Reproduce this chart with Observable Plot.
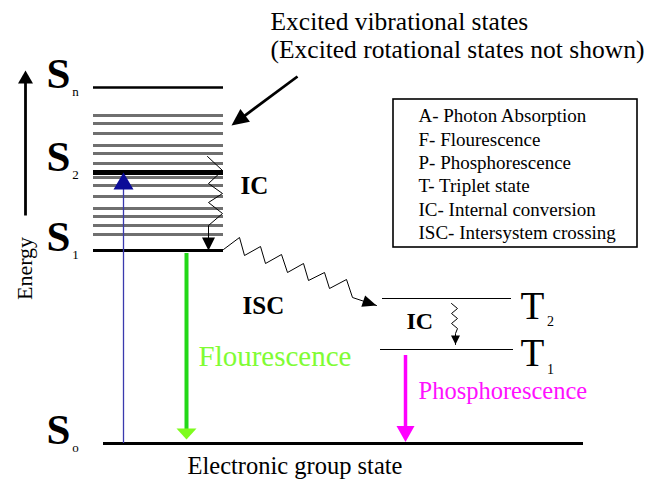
<!DOCTYPE html>
<html><head><meta charset="utf-8">
<script src="https://cdn.jsdelivr.net/npm/d3@7"></script>
<script src="https://cdn.jsdelivr.net/npm/@observablehq/plot@0.6"></script>
<style>body{margin:0;background:#fff}</style>
</head><body>
<script>
// ---- Data (energy in arbitrary units, ground state = 0; x in diagram units) ----
const singletSubs = ["n", "2", "1"];
const singletEnergy = [356, 271, 193];
const singletWidth = [2.7, 5, 3];
const vibrationalEnergy = [328, 320, 310, 298, 290, 280, 266, 258, 247, 235, 227, 218, 209];
const singletSpan = [93, 223];
const groundEnergy = 0;
const groundSpan = [103, 583];
const tripletSubs = ["2", "1"];
const tripletEnergy = [145, 94];
const tripletX1 = [382, 380];
const tripletX2 = [511, 513];

// radiative transitions
const radName = ["absorption", "fluorescence", "phosphorescence"];
const radX = [123, 186, 405];
const radFrom = [0, 190, 88];
const radTo = [271, 4, 1.5];
const radColor = ["#3a3aae", "#22d818", "#ff00ff"];
const radHeadColor = ["#0c0c98", "#7efc1e", "#ff00ff"];
const radWidth = [1.3, 4, 3.5];
const radHeadLen = [17, 11, 16];
const radHeadHalf = [10, 10, 9];

// non-radiative (wavy) transitions
const icX = [207, 222, 208, 222, 208, 222, 208, 208];
const icE = [287, 273, 260, 250, 241, 230, 218, 193];
const iscX = [223, 239, 244, 260, 265, 281, 287, 303, 308, 324, 329, 346, 352, 376];
const iscE = [194, 206, 188, 197, 180, 189, 171, 180, 163, 171, 155, 164, 146, 138];
const ic2X = [451, 457, 451, 457, 451, 457, 455, 455];
const ic2E = [140, 135, 130, 125, 120, 115, 110, 99];

// pointer arrows
const noteArrowX = [297, 231];
const noteArrowE = [367, 318];
const energyArrowX = [25, 25];
const energyArrowE = [228, 373];

// labels
const stateLetters = ["S", "S", "S", "S"];
const stateSubs = ["n", "2", "1", "o"];
const stateLabelE = [356, 273, 193, 0];
const stateSubE = [348, 265, 185, -8];
const tripletLabelE = [125, 78];
const tripletSubE = [118, 70];
const legendLines = ["A- Photon Absorption", "F- Flourescence", "P- Phosphorescence",
  "T- Triplet state", "IC- Internal conversion", "ISC- Intersystem crossing"];
const legendE = [321.3, 298, 274.7, 251.3, 228, 204.7];
const legendBox = {x1: 393, x2: 637, e1: 344, e2: 196};
const noteLines = ["Excited vibrational states", "(Excited rotational states not shown)"];
const noteE = [414, 386];

// ---- helpers ----
const serif = "Liberation Serif";
function head(x0, e0, x1, e1, len, half, id) {
  const dx = x1 - x0, dy = -(e1 - e0);
  const n = Math.hypot(dx, dy), ux = dx / n, uy = dy / n;
  const bx = x1 - ux * len, by = -e1 - uy * len;
  const px = -uy, py = ux;
  return [
    {id, x: x1, e: e1},
    {id, x: bx + px * half, e: -(by + py * half)},
    {id, x: bx - px * half, e: -(by - py * half)},
    {id, x: x1, e: e1}
  ];
}
function shaftEnd(x0, e0, x1, e1, back) {
  const dx = x1 - x0, de = e1 - e0, n = Math.hypot(dx, de);
  return {x: x1 - dx / n * back, e: e1 - de / n * back};
}
const pts = (xs, es) => xs.map((x, i) => ({x, e: es[i]}));

const singletLines = singletEnergy.map((e, i) => ({x1: singletSpan[0], x2: singletSpan[1], e, w: singletWidth[i]}));
const vibLines = vibrationalEnergy.map(e => ({x1: singletSpan[0], x2: singletSpan[1], e}));
const tripletLines = tripletEnergy.map((e, i) => ({x1: tripletX1[i], x2: tripletX2[i], e}));

const radShafts = radName.map((n, i) => {
  const end = shaftEnd(radX[i], radFrom[i], radX[i], radTo[i], radHeadLen[i] - 1);
  return {x: radX[i], e1: radFrom[i], e2: end.e, c: radColor[i], w: radWidth[i]};
});
const radHeads = radName.flatMap((n, i) => head(radX[i], radFrom[i], radX[i], radTo[i], radHeadLen[i], radHeadHalf[i], n)
  .map(d => ({...d, c: radHeadColor[i]})));

const icPts = pts(icX, icE), iscPts = pts(iscX, iscE), ic2Pts = pts(ic2X, ic2E);
const lastTwo = (a) => [a[a.length - 2], a[a.length - 1]];
const wavyHeads = [
  head(...lastTwo(icPts).flatMap(p => [p.x, p.e]), 13, 6.5, "ic"),
  head(...lastTwo(iscPts).flatMap(p => [p.x, p.e]), 14, 6, "isc"),
  head(...lastTwo(ic2Pts).flatMap(p => [p.x, p.e]), 9, 4.5, "ic2"),
  head(noteArrowX[0], noteArrowE[0], noteArrowX[1], noteArrowE[1], 17, 8, "note"),
  head(energyArrowX[0], energyArrowE[0], energyArrowX[1], energyArrowE[1], 13, 7.5, "energy")
].flat();
const noteEnd = shaftEnd(noteArrowX[0], noteArrowE[0], noteArrowX[1], noteArrowE[1], 15);
const energyEnd = shaftEnd(energyArrowX[0], energyArrowE[0], energyArrowX[1], energyArrowE[1], 12);
const pointerShafts = [
  {x1: noteArrowX[0], e1: noteArrowE[0], x2: noteEnd.x, e2: noteEnd.e},
  {x1: energyArrowX[0], e1: energyArrowE[0], x2: energyEnd.x, e2: energyEnd.e}
];

const txt = (extra) => ({fontFamily: serif, textAnchor: "start", lineAnchor: "bottom", fill: "black", ...extra});

const chart = Plot.plot({
  width: 652, height: 479, margin: 0,
  x: {domain: [0, 652], range: [0, 652], axis: null},
  y: {domain: [-36, 443], range: [479, 0], axis: null},
  style: {background: "white", fontFamily: serif},
  marks: [
    Plot.rect([legendBox], {x1: "x1", x2: "x2", y1: "e1", y2: "e2", fill: "none", stroke: "black", strokeWidth: 1.6}),
    Plot.ruleY(vibLines, {x1: "x1", x2: "x2", y: "e", stroke: "#6f6f6f", strokeWidth: 2.8}),
    Plot.ruleY(singletLines, {x1: "x1", x2: "x2", y: "e", stroke: "black", strokeWidth: d => d.w}),
    Plot.ruleY([{x1: groundSpan[0], x2: groundSpan[1], e: groundEnergy}], {x1: "x1", x2: "x2", y: "e", stroke: "black", strokeWidth: 3}),
    Plot.ruleY(tripletLines, {x1: "x1", x2: "x2", y: "e", stroke: "black", strokeWidth: 1.1}),
    Plot.ruleX(radShafts, {x: "x", y1: "e1", y2: "e2", stroke: "c", strokeWidth: "w"}),
    Plot.line(radHeads, {x: "x", y: "e", z: "id", fill: "c", stroke: "none"}),
    Plot.line(icPts, {x: "x", y: "e", stroke: "black", strokeWidth: 1}),
    Plot.line(iscPts, {x: "x", y: "e", stroke: "black", strokeWidth: 1}),
    Plot.line(ic2Pts, {x: "x", y: "e", stroke: "black", strokeWidth: 1}),
    Plot.link(pointerShafts, {x1: "x1", y1: "e1", x2: "x2", y2: "e2", stroke: "black", strokeWidth: 2.8}),
    Plot.line(wavyHeads, {x: "x", y: "e", z: "id", fill: "black", stroke: "none"}),
    Plot.text(stateLetters, {x: () => 58, y: (d, i) => stateLabelE[i], text: d => d, ...txt({textAnchor: "middle", fontSize: 43, fontWeight: "bold"})}),
    Plot.text(stateSubs, {x: () => 75, y: (d, i) => stateSubE[i], text: d => d, ...txt({textAnchor: "middle", fontSize: 13})}),
    Plot.text(tripletSubs, {x: () => 520, y: (d, i) => tripletLabelE[i], text: () => "T", ...txt({fontSize: 39})}),
    Plot.text(tripletSubs, {x: () => 550, y: (d, i) => tripletSubE[i], text: d => d, ...txt({textAnchor: "middle", fontSize: 14})}),
    Plot.text(["IC"], {x: () => 240, y: () => 250, text: d => d, ...txt({fontSize: 25, fontWeight: "bold"})}),
    Plot.text(["ISC"], {x: () => 242, y: () => 130, text: d => d, ...txt({fontSize: 25, fontWeight: "bold"})}),
    Plot.text(["IC"], {x: () => 406, y: () => 115, text: d => d, ...txt({fontSize: 24, fontWeight: "bold"})}),
    Plot.text(["Flourescence"], {x: () => 198, y: () => 78, text: d => d, ...txt({fontSize: 29, fill: "#80fc34"})}),
    Plot.text(["Phosphorescence"], {x: () => 418, y: () => 44.7, text: d => d, ...txt({fontSize: 24.5, fill: "#ff10ff"})}),
    Plot.text(noteLines, {x: () => 270, y: (d, i) => noteE[i], text: d => d, ...txt({fontSize: 25.5})}),
    Plot.text(legendLines, {x: () => 418, y: (d, i) => legendE[i], text: d => d, ...txt({fontSize: 19})}),
    Plot.text(["Electronic group state"], {x: () => 187, y: () => -30, text: d => d, ...txt({fontSize: 24.5})}),
    Plot.text(["Energy"], {x: () => 24, y: () => 175, text: d => d, rotate: -90, fontFamily: serif, fontSize: 22, textAnchor: "middle", lineAnchor: "middle", fill: "black"})
  ]
});
document.body.appendChild(chart);
</script>
</body></html>
